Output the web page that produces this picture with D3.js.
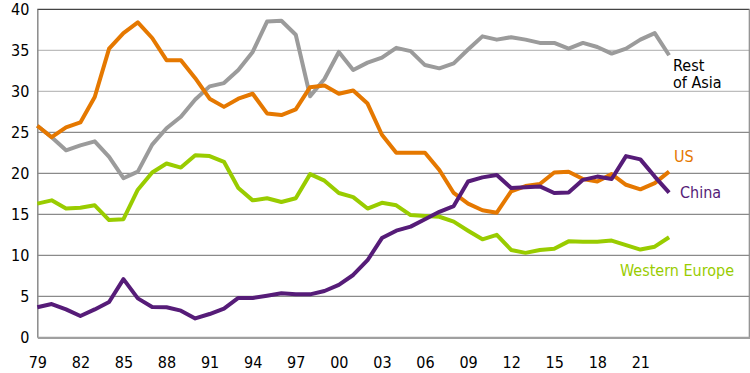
<!DOCTYPE html>
<html><head><meta charset="utf-8">
<script src="https://cdn.jsdelivr.net/npm/d3@7"></script>
<style>
html,body{margin:0;padding:0;background:#fff;}
svg{display:block;}
text{font-family:"DejaVu Sans Condensed","DejaVu Sans",sans-serif;font-stretch:condensed;}
</style></head>
<body>
<svg id="chart" width="750" height="373"></svg>
<script>
const years = d3.range(1979, 2024);
const restOfAsia = [25.8,24.4,22.8,23.4,23.9,22.0,19.4,20.2,23.5,25.5,
  26.9,29.0,30.6,31.0,32.6,34.8,38.5,38.6,36.9,29.4,
  31.5,34.8,32.6,33.5,34.1,35.3,34.9,33.2,32.8,33.4,
  35.1,36.7,36.3,36.6,36.3,35.9,35.9,35.2,35.9,35.4,
  34.6,35.2,36.3,37.1,34.4];
const us = [25.8,24.4,25.6,26.2,29.3,35.2,37.1,38.4,36.5,33.8,
  33.8,31.6,29.1,28.1,29.1,29.7,27.3,27.1,27.8,30.5,
  30.7,29.7,30.1,28.5,24.7,22.5,22.5,22.5,20.4,17.6,
  16.3,15.5,15.2,17.8,18.45,18.7,20.1,20.2,19.3,19.0,
  19.9,18.6,18.05,18.8,20.2];
const china = [3.66,4.06,3.4,2.6,3.4,4.3,7.1,4.75,3.7,3.66,
  3.25,2.3,2.84,3.5,4.8,4.8,5.07,5.36,5.24,5.24,
  5.65,6.4,7.6,9.4,12.1,13.0,13.5,14.4,15.3,16.0,
  19.0,19.5,19.8,18.2,18.3,18.4,17.6,17.65,19.2,19.6,
  19.3,22.1,21.7,19.6,17.65];
const westernEurope = [16.3,16.7,15.7,15.8,16.1,14.3,14.4,18.0,20.1,21.2,
  20.7,22.2,22.1,21.4,18.2,16.7,16.95,16.5,16.95,19.9,
  19.1,17.6,17.1,15.7,16.4,16.1,14.9,14.8,14.7,14.1,
  13.0,11.95,12.5,10.65,10.3,10.65,10.8,11.7,11.66,11.66,
  11.8,11.25,10.7,11.05,12.2];
const yTicks = [0,5,10,15,20,25,30,35,40];
const xTicks = [1979,1982,1985,1988,1991,1994,1997,2000,2003,2006,2009,2012,2015,2018,2021];
const xTickLabels = ["79","82","85","88","91","94","97","00","03","06","09","12","15","18","21"];

const series = [
  {name:"Rest of Asia", values: restOfAsia, color:"#9b9b9b"},
  {name:"US", values: us, color:"#e57800"},
  {name:"Western Europe", values: westernEurope, color:"#99cc00"},
  {name:"China", values: china, color:"#561c78"}
];

const svg = d3.select("#chart");
const x = d3.scaleLinear().domain([1979, 2028.6]).range([37.3, 749.5]);
const y = d3.scaleLinear().domain([0, 40]).range([337.3, 9.3]);

// gridlines
const gridColor = v => (v === 30 || v === 35) ? "#bdbdbd" : (v === 40 ? "#444" : "#8a8a8a");
svg.append("g").selectAll("line").data(yTicks.filter(v => v > 0)).join("line")
  .attr("x1", x.range()[0]).attr("x2", x.range()[1])
  .attr("y1", d => y(d)).attr("y2", d => y(d))
  .attr("stroke", gridColor).attr("stroke-width", 1.2);

// right border
svg.append("line").attr("x1", 749.3).attr("x2", 749.3).attr("y1", y(40)).attr("y2", y(0))
  .attr("stroke", "#8a8a8a").attr("stroke-width", 1.2);

// y axis
const yAxis = d3.axisLeft(y).tickValues(yTicks).tickSize(0).tickPadding(8);
const gy = svg.append("g").attr("transform", `translate(${x.range()[0]},0)`).call(yAxis);
gy.select(".domain").attr("stroke", "#8a8a8a").attr("stroke-width", 1.5);
gy.selectAll("text").attr("font-size", 16).attr("fill", "#000").attr("x", -8);

// x axis
const xAxis = d3.axisBottom(x).tickValues(xTicks).tickFormat((d,i) => xTickLabels[i]).tickSize(0).tickPadding(19);
const gx = svg.append("g").attr("transform", `translate(0,${y(0)})`).call(xAxis);
gx.select(".domain").attr("stroke", "#a0a0a0").attr("stroke-width", 2.2);
gx.selectAll("text").attr("font-size", 16).attr("fill", "#000");

// lines
const line = d3.line().x((d,i) => x(years[i])).y(d => y(d));
svg.append("g").selectAll("path").data(series).join("path")
  .attr("d", s => line(s.values))
  .attr("fill", "none").attr("stroke", s => s.color)
  .attr("stroke-width", 4).attr("stroke-linejoin", "round");

// labels
const lab = svg.append("g").attr("font-size", 16);
const ra = lab.append("text").attr("x", 673).attr("y", 70.7).attr("fill", "#000");
ra.append("tspan").attr("x", 673).text("Rest");
ra.append("tspan").attr("x", 673).attr("dy", 17.6).text("of Asia");
lab.append("text").attr("x", 674).attr("y", 161.7).attr("fill", "#e57800").text("US");
lab.append("text").attr("x", 680).attr("y", 198.3).attr("fill", "#561c78").text("China");
lab.append("text").attr("x", 620).attr("y", 275.7).attr("fill", "#99cc00").text("Western Europe");
</script>
</body></html>
